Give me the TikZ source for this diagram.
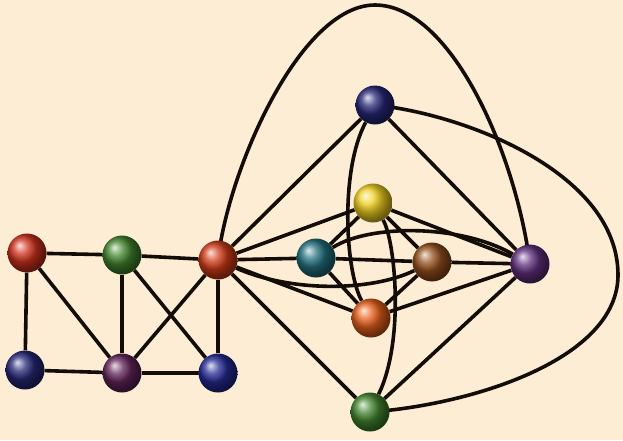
\documentclass[tikz,border=0pt]{standalone}
\pgfdeclarelayer{bg}
\pgfdeclarelayer{edges}
\pgfsetlayers{bg,edges,main}
\definecolor{paper}{HTML}{FCEDD4}
\definecolor{ink}{HTML}{140C06}
\definecolor{cRedA}{HTML}{D0301C}
\definecolor{cRedC}{HTML}{D23C18}
\definecolor{cGreen}{HTML}{42862E}
\definecolor{cNavy}{HTML}{262878}
\definecolor{cBlue}{HTML}{242A94}
\definecolor{cPlum}{HTML}{62245A}
\definecolor{cYellow}{HTML}{F0D020}
\definecolor{cTeal}{HTML}{22707E}
\definecolor{cBrown}{HTML}{94501C}
\definecolor{cOrange}{HTML}{E8601A}
\definecolor{cPurple}{HTML}{62307F}
\tikzset{
  sphere/.style={circle, minimum size=39pt, inner sep=0pt, ball color=#1},
  link/.style={draw=ink, line width=3.6pt},
}
\begin{document}
\begin{tikzpicture}[x=1pt, y=-1pt]
\useasboundingbox (0,0) rectangle (623,440);
\begin{pgfonlayer}{bg}
\fill[paper] (0,0) rectangle (623,440);
\end{pgfonlayer}
% nodes
\node[sphere=cRedA]   (A) at (27,253) {};
\node[sphere=cGreen]  (B) at (122,255) {};
\node[sphere=cRedC]   (C) at (218,260) {};
\node[sphere=cNavy]   (D) at (25,370) {};
\node[sphere=cPlum]   (E) at (122,373) {};
\node[sphere=cBlue]   (F) at (218,373) {};
\node[sphere=cNavy]   (G) at (375,105) {};
\node[sphere=cYellow] (H) at (373,203) {};
\node[sphere=cTeal]   (I) at (316,258) {};
\node[sphere=cBrown]  (J) at (432,262) {};
\node[sphere=cOrange] (K) at (371,318) {};
\node[sphere=cPurple] (L) at (530,264) {};
\node[sphere=cGreen]  (M) at (370,412) {};
\coordinate (T) at (375,5);
\coordinate (R) at (618,275);
\begin{pgfonlayer}{edges}
% left block
\draw[link] (A) -- (B);
\draw[link] (B) -- (C);
\draw[link] (A) -- (D);
\draw[link] (A) -- (E);
\draw[link] (B) -- (E);
\draw[link] (B) -- (F);
\draw[link] (C) -- (E);
\draw[link] (C) -- (F);
\draw[link] (D) -- (E);
\draw[link] (E) -- (F);
% from C
\draw[link] (C) -- (G);
\draw[link] (C) -- (H);
\draw[link] (C) -- (I);
\draw[link] (C) -- (K);
\draw[link] (C) -- (M);
\draw[link] (C) .. controls (290,292) and (370,292) .. (J);
\draw[link] (C.center) .. controls (228,170) and (300,5) .. (T)
            .. controls (450,5) and (515,150) .. (L.center);
% G
\draw[link] (G) -- (L);
\draw[link] (G) .. controls (340,170) and (345,270) .. (K);
\draw[link] (G.center) .. controls (470,115) and (618,175) .. (R)
            .. controls (618,360) and (470,405) .. (M.center);
% H
\draw[link] (H) -- (I);
\draw[link] (H) -- (J);
\draw[link] (H) -- (L);
\draw[link] (H) .. controls (395,240) and (405,340) .. (M);
% I
\draw[link] (I) -- (J);
\draw[link] (I) -- (K);
\draw[link] (I) .. controls (370,224) and (460,224) .. (L);
% J, K, L, M
\draw[link] (J) -- (K);
\draw[link] (J) -- (L);
\draw[link] (K) -- (L);
\draw[link] (L) -- (M);
\end{pgfonlayer}
\end{tikzpicture}
\end{document}
